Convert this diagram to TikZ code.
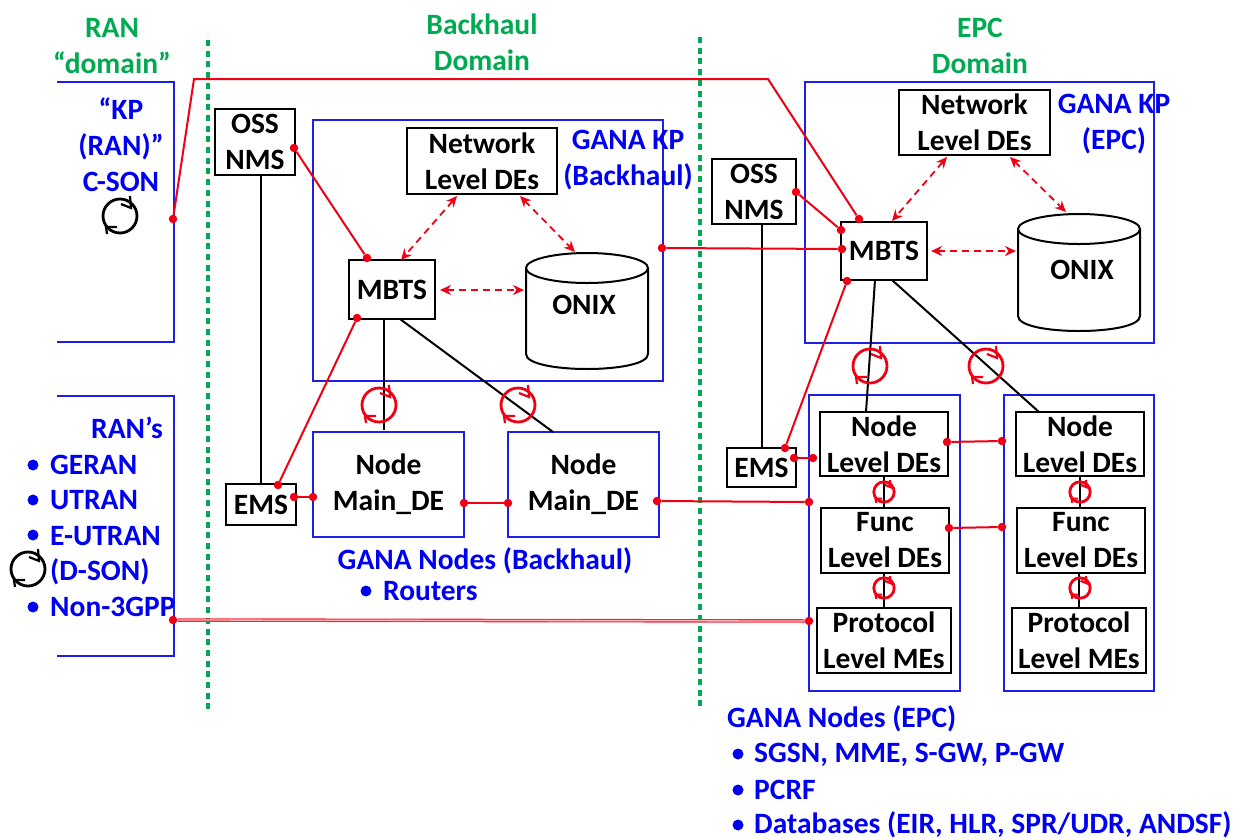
\documentclass[tikz,border=0pt]{standalone}
\usepackage{fontspec}
\setmainfont{Carlito}
\usetikzlibrary{arrows.meta}
\definecolor{ganablue}{RGB}{0,0,240}
\definecolor{boxblue}{RGB}{30,30,230}
\definecolor{ganagreen}{RGB}{0,170,80}
\definecolor{linkred}{RGB}{240,0,20}
\tikzset{
  x=1pt,y=-1pt,
  lbl/.style={font=\fontsize{29.5}{36}\selectfont\bfseries,align=center,inner sep=0pt},
  blk/.style={lbl,text=black,draw=black,line width=2pt,rectangle},
  blu/.style={lbl,text=ganablue},
  grn/.style={lbl,text=ganagreen},
  bluebox/.style={draw=boxblue,line width=1.9pt,rectangle,inner sep=0pt},
  blueline/.style={draw=boxblue,line width=1.9pt,line join=miter},
  greendots/.style={draw=ganagreen,line width=3.4pt,dash pattern=on 6pt off 4.7pt},
  blackline/.style={draw=black,line width=2pt},
  redline/.style={draw=linkred,line width=2pt,line join=miter},
  reddash/.style={draw=linkred,line width=1.8pt,dash pattern=on 7pt off 5pt,{Stealth[length=11pt,width=10pt]}-{Stealth[length=11pt,width=10pt]}},
  dot/.style={circle,fill=linkred,inner sep=0pt,minimum size=8.5pt},
  bul/.style={circle,fill=ganablue,inner sep=0pt,minimum size=11pt},
  cyl/.style={draw=black,fill=white,line width=2pt},
  loopsym/.pic={
    \draw[line width=2.8pt,pic actions] (0,0) circle[radius=17];
    \draw[line width=2.2pt,pic actions] (1,-12) -- (11,-8) -- (10,-20);
    \draw[line width=2.2pt,pic actions] (-3,11) -- (-14,11) -- (-13,18);
  }
}
\begin{document}
\begin{tikzpicture}
\useasboundingbox (0,0) rectangle (1243,839);
% domains
\coordinate (g1a) at (208,40); \coordinate (g1b) at (208,711);
\coordinate (g2a) at (700,37); \coordinate (g2b) at (700,709);
\draw[greendots] (g1a) -- (g1b);
\draw[greendots] (g2a) -- (g2b);
\node[grn] (tRAN) at (112,46.5) {RAN\\“domain”};
\node[grn] (tBack) at (482,42) {Backhaul\\Domain};
\node[grn] (tEPC) at (980,46) {EPC\\Domain};
% RAN brackets
\coordinate (r1a) at (57,82); \coordinate (r1b) at (174,82); \coordinate (r1c) at (174,342); \coordinate (r1d) at (57,342);
\coordinate (r2a) at (57,396); \coordinate (r2b) at (174,396); \coordinate (r2c) at (174,656); \coordinate (r2d) at (57,656);
\draw[blueline] (r1a) -- (r1b) -- (r1c) -- (r1d);
\draw[blueline] (r2a) -- (r2b) -- (r2c) -- (r2d);
\node[blu] (kpran) at (121,144.5) {“KP\\(RAN)”\\C-SON};
\node[blu,anchor=east] (rans) at (163,428) {RAN’s};
\node[blu,anchor=west] (t1) at (50,465) {GERAN};
\node[blu,anchor=west] (t2) at (50,500) {UTRAN};
\node[blu,anchor=west] (t3) at (50,536) {E-UTRAN};
\node[blu,anchor=west] (t4) at (50,572) {(D-SON)};
\node[blu,anchor=west] (t5) at (50,607) {Non-3GPP};
\node[bul] (b1) at (33,465) {}; \node[bul] (b2) at (33,500) {}; \node[bul] (b3) at (33,535) {}; \node[bul] (b5) at (33,607) {};
\pic[draw=black] at (120,216) {loopsym};
\pic[draw=black] at (28,569) {loopsym};
% Backhaul
\node[bluebox,minimum width=350pt,minimum height=261pt] (kpB) at (488,250.5) {};
\node[blu] (tkpB) at (628,160) {GANA KP\\(Backhaul)};
\node[blk,minimum width=80pt,minimum height=66pt] (ossB) at (255,142) {OSS\\NMS};
\node[blk,minimum width=150pt,minimum height=66pt] (netB) at (482,161) {Network\\Level DEs};
\node[blk,minimum width=86pt,minimum height=59pt] (mbtsB) at (392,289.5) {MBTS};
\path[cyl] (526,268) -- (526,354) .. controls (526,374) and (648,374) .. (648,354) -- (648,268);
\draw[cyl] (587,268) ellipse[x radius=61,y radius=15];
\node[lbl] (tonixB) at (584,305) {ONIX};
\node[blk,minimum width=70pt,minimum height=41pt] (emsB) at (261,504.5) {EMS};
\node[bluebox,minimum width=151pt,minimum height=105pt,lbl,text=black] (mainA) at (388.5,484.5) {Node\\Main\_DE};
\node[bluebox,minimum width=151pt,minimum height=105pt,lbl,text=black] (mainB) at (583.5,484.5) {Node\\Main\_DE};
\node[blu] (tnB) at (485,561) {GANA Nodes (Backhaul)};
\node[bul] (b6) at (366,591) {};
\node[blu,anchor=west] (trt) at (383,591) {Routers};
% EPC
\node[bluebox,minimum width=349pt,minimum height=261pt] (kpE) at (979.5,212.5) {};
\node[blu] (tkpE) at (1114,124) {GANA KP\\(EPC)};
\node[blk,minimum width=84pt,minimum height=65pt] (ossE) at (754,191.5) {OSS\\NMS};
\node[blk,minimum width=151pt,minimum height=65pt] (netE) at (974.5,122.5) {Network\\Level DEs};
\node[blk,minimum width=86pt,minimum height=58pt] (mbtsE) at (884,251) {MBTS};
\path[cyl] (1018,229) -- (1018,316) .. controls (1018,336) and (1140,336) .. (1140,316) -- (1140,229);
\draw[cyl] (1079,229) ellipse[x radius=61,y radius=15];
\node[lbl] (tonixE) at (1082,270) {ONIX};
\node[blk,minimum width=69pt,minimum height=39pt] (emsE) at (761.5,467.5) {EMS};
\node[bluebox,minimum width=151pt,minimum height=296pt] (col1) at (884.5,543) {};
\node[bluebox,minimum width=150pt,minimum height=296pt] (col2) at (1079,543) {};
\node[blk,minimum width=128pt,minimum height=64pt] (nl1) at (884,444) {Node\\Level DEs};
\node[blk,minimum width=128pt,minimum height=65pt] (fl1) at (885,540.5) {Func\\Level DEs};
\node[blk,minimum width=134pt,minimum height=65pt] (pl1) at (884,640.5) {Protocol\\Level MEs};
\node[blk,minimum width=128pt,minimum height=64pt] (nl2) at (1080,444) {Node\\Level DEs};
\node[blk,minimum width=128pt,minimum height=65pt] (fl2) at (1081,540.5) {Func\\Level DEs};
\node[blk,minimum width=134pt,minimum height=65pt] (pl2) at (1079,640.5) {Protocol\\Level MEs};
\node[blu,anchor=west] (tnE) at (727,719) {GANA Nodes (EPC)};
\node[bul] (b7) at (738,754) {}; \node[bul] (b8) at (738,790) {}; \node[bul] (b9) at (738,825) {};
\node[blu,anchor=west] (te1) at (754,755) {SGSN, MME, S-GW, P-GW};
\node[blu,anchor=west] (te2) at (754,790) {PCRF};
\node[blu,anchor=west] (te3) at (754,825) {Databases (EIR, HLR, SPR/UDR, ANDSF)};
% black links
\draw[blackline] (ossB.south -| emsB.north) -- (emsB.north);
\draw[blackline] (ossE.south -| emsE.north) -- (emsE.north);
\coordinate (mb1) at (384,319); \coordinate (mb2) at (384,430);
\coordinate (mb3) at (400,319); \coordinate (mb4) at (553,432);
\draw[blackline] (mb1) -- (mb2);
\draw[blackline] (mb3) -- (mb4);
\coordinate (me1) at (875,280); \coordinate (me2) at (866,412);
\coordinate (me3) at (892,280); \coordinate (me4) at (1039,412);
\draw[blackline] (me1) -- (me2);
\draw[blackline] (me3) -- (me4);
\draw[blackline] (nl1.south) -- (fl1.north -| nl1.south);
\draw[blackline] (fl1.south -| pl1.north) -- (pl1.north);
\draw[blackline] (nl2.south) -- (fl2.north -| nl2.south);
\draw[blackline] (fl2.south -| pl2.north) -- (pl2.north);
% red loops
\pic[draw=linkred] at (379,405) {loopsym};
\pic[draw=linkred] at (518,405) {loopsym};
\pic[draw=linkred] at (870,366) {loopsym};
\pic[draw=linkred] at (986,366) {loopsym};
\pic[draw=linkred,scale=0.6] at (884,492) {loopsym};
\pic[draw=linkred,scale=0.6] at (884,588) {loopsym};
\pic[draw=linkred,scale=0.6] at (1080,492) {loopsym};
\pic[draw=linkred,scale=0.6] at (1080,588) {loopsym};
% dashed arrows
\coordinate (d1a) at (457,196); \coordinate (d1b) at (401,260);
\coordinate (d2a) at (520,196); \coordinate (d2b) at (575,252);
\coordinate (d3a) at (440,290); \coordinate (d3b) at (524,290);
\coordinate (d4a) at (947,157); \coordinate (d4b) at (892,221);
\coordinate (d5a) at (1010,157); \coordinate (d5b) at (1066,212);
\coordinate (d6a) at (931,251); \coordinate (d6b) at (1016,251);
\draw[reddash] (d1a) -- (d1b);
\draw[reddash] (d2a) -- (d2b);
\draw[reddash] (d3a) -- (d3b);
\draw[reddash] (d4a) -- (d4b);
\draw[reddash] (d5a) -- (d5b);
\draw[reddash] (d6a) -- (d6b);
% red links with end dots
\node[dot] (p1) at (173,219) {}; \coordinate (k1) at (194,79); \coordinate (k2) at (768,79); \node[dot] (p2) at (859,219) {};
\draw[redline] (p1) -- (k1) -- (k2) -- (p2);
\node[dot] (p3) at (294,148) {}; \node[dot] (p4) at (367,258) {};
\draw[redline] (p3) -- (p4);
\node[dot] (p5) at (278,485) {}; \node[dot] (p6) at (357,318) {};
\draw[redline] (p5) -- (p6);
\node[dot] (p7) at (294,497) {}; \node[dot] (p8) at (313,497) {};
\draw[redline] (p7) -- (p8);
\node[dot] (p9) at (464,503) {}; \node[dot] (p10) at (508,503) {};
\draw[redline] (p9) -- (p10);
\node[dot] (p11) at (657,501) {}; \node[dot] (p12) at (809,502) {};
\draw[redline] (p11) -- (p12);
\node[dot] (p13) at (173,620) {}; \node[dot] (p14) at (809,621) {};
\draw[draw=linkred!85,line width=1.1pt,double=white!70!linkred,double distance=1.3pt] (p13) -- (p14);
\node[dot] (p15) at (662,248) {}; \node[dot] (p16) at (842,249) {};
\draw[redline] (p15) -- (p16);
\node[dot] (p17) at (796,192) {}; \node[dot] (p18) at (841,230) {};
\draw[redline] (p17) -- (p18);
\node[dot] (p19) at (785,448) {}; \node[dot] (p20) at (847,281) {};
\draw[redline] (p19) -- (p20);
\node[dot] (p21) at (794,458) {}; \node[dot] (p22) at (813,458) {};
\draw[redline] (p21) -- (p22);
\node[dot] (p23) at (947,442) {}; \node[dot] (p24) at (1002,441) {};
\draw[redline] (p23) -- (p24);
\node[dot] (p25) at (949,528) {}; \node[dot] (p26) at (1002,527) {};
\draw[redline] (p25) -- (p26);
\end{tikzpicture}
\end{document}
